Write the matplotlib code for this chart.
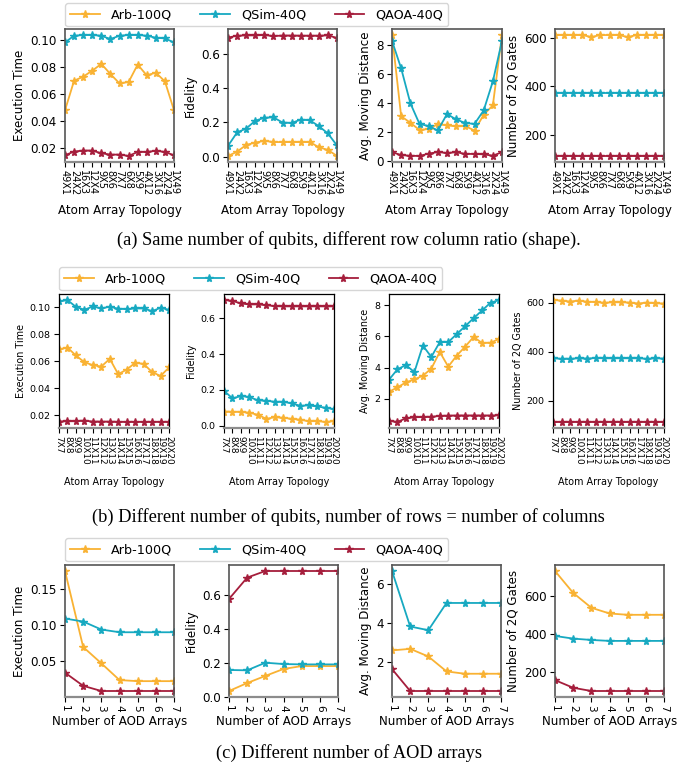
import numpy as np
import matplotlib
matplotlib.use("Agg")
import matplotlib.pyplot as plt

plt.rcParams['font.family'] = ['DejaVu Sans']

W, H = 697, 771

series = ['Arb-100Q', 'QSim-40Q', 'QAOA-40Q']
colors = ['#f9b233', '#17a9c1', '#a51e3c']

# (a) same number of qubits, different shape
shape_labels = ['49X1', '24X2', '16X3', '12X4', '9X5', '8X6', '7X7', '6X8', '5X9',
                '4X12', '3X16', '2X24', '1X49']
a_time = [
    [0.048, 0.070, 0.073, 0.0775, 0.0825, 0.075, 0.068, 0.069, 0.082, 0.074, 0.076, 0.0695, 0.048],
    [0.0985, 0.1035, 0.104, 0.104, 0.1035, 0.101, 0.1035, 0.104, 0.104, 0.1035, 0.102, 0.1015, 0.0985],
    [0.0145, 0.0173, 0.018, 0.018, 0.016, 0.015, 0.015, 0.014, 0.017, 0.017, 0.0178, 0.017, 0.0145],
]
a_fid = [
    [0.004, 0.029, 0.068, 0.082, 0.092, 0.085, 0.085, 0.085, 0.085, 0.085, 0.055, 0.039, 0.004],
    [0.063, 0.141, 0.164, 0.209, 0.227, 0.229, 0.199, 0.196, 0.216, 0.212, 0.178, 0.135, 0.065],
    [0.694, 0.705, 0.707, 0.707, 0.709, 0.703, 0.706, 0.706, 0.705, 0.705, 0.705, 0.707, 0.692],
]
a_dist = [
    [8.7, 3.1, 2.65, 2.15, 2.22, 2.55, 2.47, 2.4, 2.42, 2.11, 3.2, 3.85, 8.7],
    [8.3, 6.4, 4.0, 2.57, 2.42, 2.12, 3.25, 2.88, 2.63, 2.57, 3.5, 5.5, 8.3],
    [0.62, 0.42, 0.37, 0.36, 0.52, 0.63, 0.56, 0.62, 0.5, 0.5, 0.47, 0.38, 0.62],
]
a_gates = [
    [611, 611, 611, 611, 603, 611, 611, 611, 603, 611, 611, 611, 611],
    [374, 374, 374, 374, 374, 374, 374, 374, 374, 374, 374, 374, 374],
    [115, 115, 115, 115, 115, 115, 115, 115, 115, 115, 115, 115, 115],
]

# (b) different number of qubits, square arrays
square_labels = ['7X7', '8X8', '9X9', '10X10', '11X11', '12X12', '13X13', '14X14',
                 '15X15', '16X16', '17X17', '18X18', '19X19', '20X20']
b_time = [
    [0.0687, 0.070, 0.0642, 0.0592, 0.057, 0.056, 0.0617, 0.0503, 0.0538, 0.0587, 0.058, 0.0519, 0.049, 0.0553],
    [0.1042, 0.1052, 0.1002, 0.098, 0.1005, 0.099, 0.1003, 0.0988, 0.0985, 0.099, 0.099, 0.097, 0.0995, 0.098],
    [0.0153, 0.0155, 0.0155, 0.016, 0.0152, 0.0152, 0.0152, 0.015, 0.015, 0.015, 0.015, 0.015, 0.015, 0.015],
]
b_fid = [
    [0.080, 0.078, 0.078, 0.073, 0.062, 0.039, 0.048, 0.045, 0.039, 0.034, 0.026, 0.026, 0.022, 0.026],
    [0.196, 0.153, 0.166, 0.161, 0.142, 0.140, 0.134, 0.134, 0.125, 0.112, 0.114, 0.108, 0.101, 0.093],
    [0.701, 0.697, 0.682, 0.677, 0.677, 0.673, 0.667, 0.666, 0.666, 0.666, 0.666, 0.666, 0.666, 0.666],
]
b_dist = [
    [2.45, 2.73, 3.05, 3.24, 3.48, 3.93, 5.0, 4.06, 4.76, 5.34, 5.96, 5.57, 5.59, 5.83],
    [3.22, 3.89, 4.16, 3.71, 5.41, 4.68, 5.63, 5.63, 6.14, 6.65, 7.16, 7.66, 8.15, 8.32],
    [0.58, 0.52, 0.75, 0.82, 0.83, 0.85, 0.9, 0.92, 0.93, 0.93, 0.93, 0.93, 0.93, 0.94],
]
b_gates = [
    [610, 608, 604, 608, 603, 602, 599, 601, 601, 600, 596, 600, 597, 596],
    [373, 371, 371, 373, 372, 374, 373, 373, 373, 373, 373, 371, 373, 372],
    [114, 114, 114, 114, 114, 114, 114, 114, 114, 114, 114, 114, 114, 114],
]

# (c) different number of AOD arrays
aod_counts = [1, 2, 3, 4, 5, 6, 7]
aod_labels = ['1', '2', '3', '4', '5', '6', '7']
c_time = [
    [0.1747, 0.069, 0.0463, 0.023, 0.0215, 0.0215, 0.0215],
    [0.1086, 0.1044, 0.0933, 0.0895, 0.0895, 0.0895, 0.0895],
    [0.0333, 0.015, 0.0078, 0.0078, 0.0078, 0.0078, 0.0078],
]
c_fid = [
    [0.033, 0.080, 0.122, 0.163, 0.180, 0.180, 0.180],
    [0.157, 0.155, 0.200, 0.192, 0.190, 0.190, 0.190],
    [0.576, 0.702, 0.741, 0.741, 0.741, 0.741, 0.741],
]
c_dist = [
    [2.61, 2.69, 2.30, 1.54, 1.42, 1.42, 1.42],
    [6.66, 3.83, 3.64, 5.03, 5.03, 5.03, 5.03],
    [1.66, 0.54, 0.54, 0.54, 0.54, 0.54, 0.54],
]
c_gates = [
    [729, 614, 536, 506, 499, 499, 499],
    [388, 374, 367, 362, 362, 362, 362],
    [156, 116, 99, 99, 99, 99, 99],
]

ylabels = ['Execution Time', 'Fidelity', 'Avg. Moving Distance', 'Number of 2Q Gates']


def px_axes(fig, x0, x1, y0, y1):
    return fig.add_axes([x0 / W, 1 - y1 / H, (x1 - x0) / W, (y1 - y0) / H])


def draw_row(fig, lefts, rights, ytop, ybot, xs, xticklabels, panels, xlabel,
             yticks, tick_fs, label_fs, xtick_fs, xlabelpad, frame_color, frame_lw):
    axes = []
    for k, data in enumerate(panels):
        ax = px_axes(fig, lefts[k], rights[k], ytop, ybot)
        for s, vals in enumerate(data):
            ax.plot(xs, vals, color=colors[s], marker='*', markersize=5.8,
                    lw=1.3, label=series[s])
        ax.set_xlim(xs[0], xs[-1])
        ax.set_xticks(xs)
        ax.set_xticklabels(xticklabels, rotation=270, fontsize=xtick_fs)
        ax.set_yticks(yticks[k])
        ax.tick_params(axis='y', labelsize=tick_fs, pad=2.5)
        ax.tick_params(axis='x', pad=2)
        ax.set_xlabel(xlabel, fontsize=label_fs, labelpad=xlabelpad)
        ax.set_ylabel(ylabels[k], fontsize=label_fs, labelpad=3)
        for side in ['left', 'top', 'right']:
            ax.spines[side].set_color(frame_color)
            ax.spines[side].set_linewidth(frame_lw)
        ax.spines['bottom'].set_color('#8c8c8c')
        ax.spines['bottom'].set_linewidth(1.6)
        axes.append(ax)
    return axes


fig = plt.figure(figsize=(W / 100, H / 100), dpi=100)

# row (a)
ax_a = draw_row(fig, [65, 228, 392, 555], [174, 337, 502, 664], 29, 162,
                np.arange(len(shape_labels)), shape_labels,
                [a_time, a_fid, a_dist, a_gates], 'Atom Array Topology',
                [[0.02, 0.04, 0.06, 0.08, 0.10], [0.0, 0.2, 0.4, 0.6],
                 [0, 2, 4, 6, 8], [200, 400, 600]],
                8.6, 8.6, 7.0, 6.5, '#555555', 1.2)
# row (b)
ax_b = draw_row(fig, [59, 224, 389, 553], [169, 334, 499, 664], 294, 428,
                np.arange(len(square_labels)), square_labels,
                [b_time, b_fid, b_dist, b_gates], 'Atom Array Topology',
                [[0.02, 0.04, 0.06, 0.08, 0.10], [0.0, 0.2, 0.4, 0.6],
                 [2, 4, 6, 8], [200, 400, 600]],
                6.8, 6.9, 6.4, 9.0, 'black', 0.9)
# row (c)
ax_c = draw_row(fig, [65, 229, 392, 555], [174, 338, 501, 664], 565, 697,
                aod_counts, aod_labels,
                [c_time, c_fid, c_dist, c_gates], 'Number of AOD Arrays',
                [[0.05, 0.10, 0.15], [0.0, 0.2, 0.4, 0.6], [2, 4, 6], [200, 400, 600]],
                8.6, 8.6, 7.5, 3.0, '#555555', 1.2)

for axes, left, top in [(ax_a, 65, 3), (ax_b, 59, 267), (ax_c, 65, 538)]:
    handles, labels = axes[0].get_legend_handles_labels()
    fig.legend(handles, labels, loc='upper left', ncol=3, fontsize=9.2,
               handlelength=2.3, handletextpad=0.9, columnspacing=2.2,
               bbox_to_anchor=(left / W, 1 - top / H), borderaxespad=0)

captions = [
    (240, '(a) Same number of qubits, different row column ratio (shape).'),
    (517, '(b) Different number of qubits, number of rows = number of columns'),
    (753, '(c) Different number of AOD arrays'),
]
for y, txt in captions:
    fig.text(0.5, 1 - y / H, txt, ha='center', va='center', fontsize=13.2,
             family=['Liberation Serif', 'DejaVu Serif'])

fig.savefig('out.png', dpi=100)
